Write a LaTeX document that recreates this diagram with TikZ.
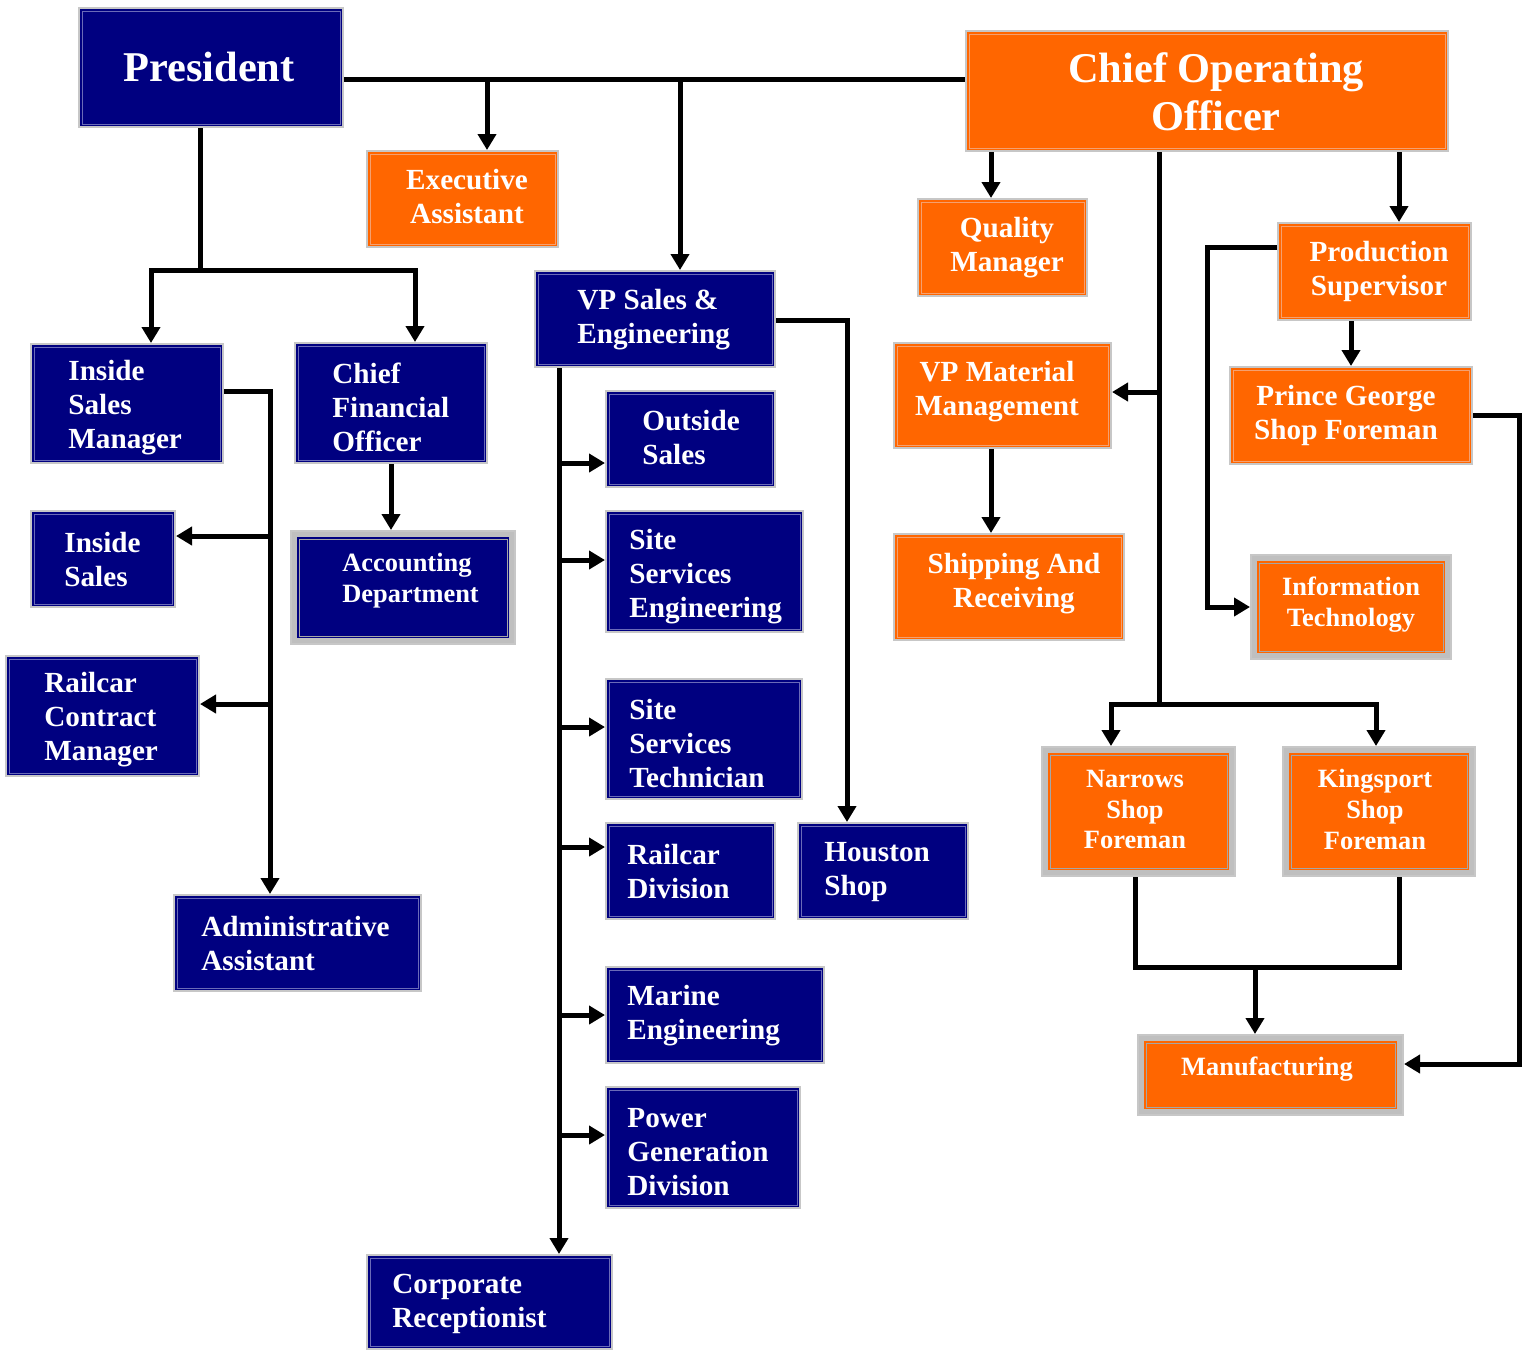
\documentclass[tikz,border=0pt]{standalone}
\usepackage{fontspec}
\setmainfont{Liberation Serif}
\usetikzlibrary{arrows.meta}
\definecolor{navyc}{HTML}{000080}
\definecolor{navyline}{HTML}{6A6AB8}
\definecolor{orangec}{HTML}{FF6600}
\definecolor{orangeline}{HTML}{F4A070}
\tikzset{
  ring/.style={draw=black!22, line width=1pt, inner sep=0pt},
  navybox/.style={ring, fill=navyc,
    path picture={\draw[navyline, line width=0.5pt]
      ([shift={(1.5pt,1.5pt)}]path picture bounding box.south west) rectangle
      ([shift={(-1.5pt,-1.5pt)}]path picture bounding box.north east);}},
  orangebox/.style={ring, fill=orangec,
    path picture={\draw[orangeline, line width=0.5pt]
      ([shift={(1.5pt,1.5pt)}]path picture bounding box.south west) rectangle
      ([shift={(-1.5pt,-1.5pt)}]path picture bounding box.north east);}},
  navyframed/.style={ring, fill=black!25,
    path picture={
      \fill[navyc] ([shift={(3pt,3pt)}]path picture bounding box.south west) rectangle
      ([shift={(-3pt,-3pt)}]path picture bounding box.north east);
      \draw[black!35, line width=0.5pt]
      ([shift={(4pt,4pt)}]path picture bounding box.south west) rectangle
      ([shift={(-4pt,-4pt)}]path picture bounding box.north east);}},
  orangeframed/.style={ring, fill=black!25,
    path picture={
      \fill[orangec] ([shift={(3pt,3pt)}]path picture bounding box.south west) rectangle
      ([shift={(-3pt,-3pt)}]path picture bounding box.north east);
      \draw[black!35, line width=0.5pt]
      ([shift={(4pt,4pt)}]path picture bounding box.south west) rectangle
      ([shift={(-4pt,-4pt)}]path picture bounding box.north east);}},
  lbl/.style={text=white, inner sep=0pt, yshift=-1.4pt,
    font=\fontsize{14.6pt}{17pt}\selectfont\bfseries},
  lblsmall/.style={text=white, inner sep=0pt, yshift=-1.3pt,
    font=\fontsize{13.2pt}{15.4pt}\selectfont\bfseries},
  lblbig/.style={text=white, inner sep=0pt, font=\fontsize{21.2pt}{24pt}\selectfont\bfseries},
  ln/.style={line width=2.5pt, black},
  arr/.style={ln, -{Triangle[width=9pt,length=8pt]}},
}
% \orgbox{name}{style}{x1}{y1}{x2}{y2}: a box given by its corners
\newcommand\orgbox[6]{%
  \node[#2, minimum width={(#5-#3)*0.5pt-1pt}, minimum height={(#6-#4)*0.5pt-1pt}]
    (#1) at ({(#3+#5)/2},{(#4+#6)/2}) {};}
\begin{document}
\begin{tikzpicture}[x=0.5pt, y=-0.5pt]
\useasboundingbox (0,0) rectangle (1530,1351);

% ---- boxes
\orgbox{pres}{navybox}{78}{7}{344}{128}
\orgbox{coo}{orangebox}{965}{30}{1449}{152}
\orgbox{ea}{orangebox}{366}{150}{559}{248}
\orgbox{qm}{orangebox}{917}{198}{1088}{297}
\orgbox{ps}{orangebox}{1277}{222}{1472}{321}
\orgbox{vps}{navybox}{534}{270}{776}{368}
\orgbox{ism}{navybox}{30}{343}{224}{464}
\orgbox{cfo}{navybox}{294}{342}{488}{464}
\orgbox{vpm}{orangebox}{893}{342}{1112}{449}
\orgbox{prg}{orangebox}{1229}{366}{1473}{465}
\orgbox{os}{navybox}{605}{390}{776}{488}
\orgbox{is}{navybox}{30}{510}{176}{608}
\orgbox{acc}{navyframed}{290}{530}{516}{645}
\orgbox{sse}{navybox}{605}{510}{804}{633}
\orgbox{sr}{orangebox}{893}{533}{1125}{641}
\orgbox{it}{orangeframed}{1250}{554}{1452}{660}
\orgbox{rcm}{navybox}{5}{655}{200}{777}
\orgbox{sst}{navybox}{605}{678}{803}{800}
\orgbox{nar}{orangeframed}{1041}{746}{1236}{877}
\orgbox{kin}{orangeframed}{1282}{746}{1476}{877}
\orgbox{rd}{navybox}{605}{822}{776}{920}
\orgbox{hou}{navybox}{797}{822}{969}{920}
\orgbox{adm}{navybox}{173}{894}{422}{992}
\orgbox{me}{navybox}{605}{966}{825}{1064}
\orgbox{mfg}{orangeframed}{1137}{1034}{1404}{1116}
\orgbox{pwr}{navybox}{605}{1086}{801}{1209}
\orgbox{cr}{navybox}{366}{1254}{613}{1350}

% ---- labels
\node[lblbig] (pres-t) at (209,67) {President};
\node[lblbig, align=center] (coo-t) at (1216,92) {Chief Operating\\Officer};
\node[lbl, align=center] (ea-t) at (467,194) {Executive\\Assistant};
\node[lbl, align=center] (qm-t) at (1007,245) {Quality\\Manager};
\node[lbl, align=center] (ps-t) at (1379,269) {Production\\Supervisor};
\node[lbl, align=left, anchor=west] (vps-t) at (577,317) {VP Sales \&\\Engineering};
\node[lbl, align=left, anchor=west] (ism-t) at (68,405) {Inside\\Sales\\Manager};
\node[lbl, align=left, anchor=west] (cfo-t) at (332,405) {Chief\\Financial\\Officer};
\node[lbl, align=center] (vpm-t) at (997,389) {VP Material\\Management};
\node[lbl, align=center] (prg-t) at (1346,413) {Prince George\\Shop Foreman};
\node[lbl, align=left, anchor=west] (os-t) at (642,435) {Outside\\Sales};
\node[lbl, align=left, anchor=west] (is-t) at (64,557) {Inside\\Sales};
\node[lblsmall, align=left, anchor=west] (acc-t) at (342,578) {Accounting\\Department};
\node[lbl, align=left, anchor=west] (sse-t) at (629,574) {Site\\Services\\Engineering};
\node[lbl, align=center] (sr-t) at (1014,581) {Shipping And\\Receiving};
\node[lblsmall, align=center] (it-t) at (1351,602) {Information\\Technology};
\node[lbl, align=left, anchor=west] (rcm-t) at (44,717) {Railcar\\Contract\\Manager};
\node[lbl, align=left, anchor=west] (sst-t) at (629,741) {Site\\Services\\Technician};
\node[lblsmall, align=center] (nar-t) at (1135,807) {Narrows\\Shop\\Foreman};
\node[lblsmall, align=center] (kin-t) at (1375,807) {Kingsport\\Shop\\Foreman};
\node[lbl, align=left, anchor=west] (rd-t) at (627,869) {Railcar\\Division};
\node[lbl, align=left, anchor=west] (hou-t) at (824,869) {Houston\\Shop};
\node[lbl, align=left, anchor=west] (adm-t) at (201,941) {Administrative\\Assistant};
\node[lbl, align=left, anchor=west] (me-t) at (627,1013) {Marine\\Engineering};
\node[lblsmall] (mfg-t) at (1267,1066) {Manufacturing};
\node[lbl, align=left, anchor=west] (pwr-t) at (627,1149) {Power\\Generation\\Division};
\node[lbl, align=left, anchor=west] (cr-t) at (392,1301) {Corporate\\Receptionist};

% ---- top line between President and COO
\coordinate (yT) at (0,79);
\draw[ln] (pres.east |- yT) -- (coo.west |- yT);
\coordinate (jEA) at (487,79);
\draw[arr] (jEA) -- (jEA |- ea.north);
\coordinate (jVS) at (680,79);
\draw[arr] (jVS) -- (jVS |- vps.north);

% ---- President downwards
\coordinate (jP) at (200,270);
\coordinate (aISM) at (151,270);
\coordinate (aCFO) at (415,270);
\draw[ln] (jP |- pres.south) -- (jP);
\draw[arr] (jP) -- (aISM) -- (aISM |- ism.north);
\draw[arr] (jP) -- (aCFO) -- (aCFO |- cfo.north);

% ---- Inside Sales Manager branch
\coordinate (vA) at (270,391);
\draw[arr] (ism.east |- vA) -- (vA) -- (vA |- adm.north);
\coordinate (bIS) at (270,536);
\draw[arr] (bIS) -- (bIS -| is.east);
\coordinate (bRC) at (270,704);
\draw[arr] (bRC) -- (bRC -| rcm.east);

% ---- CFO to Accounting
\coordinate (cA) at (391,0);
\draw[arr] (cA |- cfo.south) -- (cA |- acc.north);

% ---- VP Sales & Engineering
\coordinate (vH) at (847,320);
\draw[arr] (vps.east |- vH) -- (vH) -- (vH |- hou.north);
\coordinate (sp) at (559,0);
\draw[arr] (sp |- vps.south) -- (sp |- cr.north);
\foreach \n/\yy in {os/463, sse/560, sst/727, rd/847, me/1015, pwr/1135} {
  \coordinate (b) at (559,\yy);
  \draw[arr] (b) -- (b -| \n.west);
}

% ---- COO branches
\coordinate (qx) at (991,0);
\draw[arr] (qx |- coo.south) -- (qx |- qm.north);
\draw[arr] (qx |- vpm.south) -- (qx |- sr.north);
\coordinate (cs) at (1159,704);
\draw[ln] (cs |- coo.south) -- (cs);
\coordinate (bVM) at (1159,392);
\draw[arr] (bVM) -- (bVM -| vpm.east);
\coordinate (aN) at (1111,704);
\coordinate (aK) at (1376,704);
\draw[arr] (cs) -- (aN) -- (aN |- nar.north);
\draw[arr] (cs) -- (aK) -- (aK |- kin.north);

% ---- Production Supervisor
\coordinate (px) at (1399,0);
\draw[arr] (px |- coo.south) -- (px |- ps.north);
\coordinate (pL) at (1207,247);
\coordinate (pI) at (1207,607);
\draw[arr] (ps.west |- pL) -- (pL) -- (pI) -- (pI -| it.west);
\coordinate (pgx) at (1351,0);
\draw[arr] (pgx |- ps.south) -- (pgx |- prg.north);

% ---- Prince George to Manufacturing
\coordinate (rR) at (1519,415);
\coordinate (rM) at (1519,1064);
\draw[arr] (prg.east |- rR) -- (rR) -- (rM) -- (rM -| mfg.east);

% ---- shop foremen to Manufacturing
\coordinate (nx) at (1135,967);
\coordinate (kx) at (1399,967);
\draw[ln] (nx |- nar.south) -- (nx) -- (kx) -- (kx |- kin.south);
\coordinate (mj) at (1255,967);
\draw[arr] (mj) -- (mj |- mfg.north);
\end{tikzpicture}
\end{document}
